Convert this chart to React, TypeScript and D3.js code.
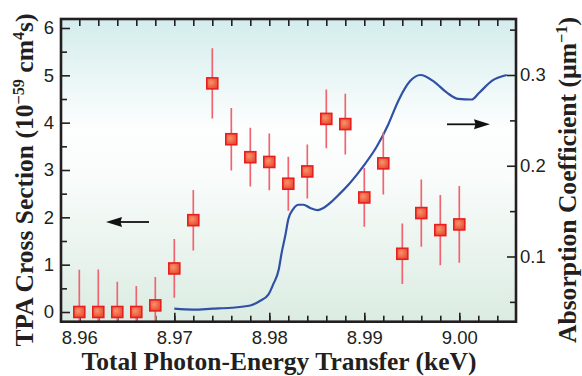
import { useEffect, useRef } from 'react'
import * as d3 from 'd3'

// TPA cross section points (left axis), with error bars
const tpaEnergy = [8.960, 8.962, 8.964, 8.966, 8.968, 8.970, 8.972, 8.974, 8.976, 8.978, 8.980,
  8.982, 8.984, 8.986, 8.988, 8.990, 8.992, 8.994, 8.996, 8.998, 9.000]
const tpaValue = [0, 0, 0, 0, 0.14, 0.92, 1.94, 4.83, 3.65, 3.27, 3.17,
  2.71, 2.97, 4.08, 3.97, 2.42, 3.14, 1.23, 2.09, 1.73, 1.85]
const tpaError = [0.89, 0.9, 0.64, 0.55, 0.6, 0.62, 0.64, 0.74, 0.66, 0.62, 0.6,
  0.57, 0.57, 0.62, 0.64, 0.62, 0.66, 0.64, 0.71, 0.74, 0.81]

// absorption spectrum (right axis)
const absEnergy = [8.9700, 8.9720, 8.9740, 8.9760, 8.9780, 8.9790, 8.9799, 8.9804, 8.9810, 8.9813,
  8.9817, 8.9820, 8.9825, 8.9831, 8.9836, 8.9843, 8.9851, 8.9857, 8.9864, 8.9874, 8.9884,
  8.9892, 8.9900, 8.9913, 8.9925, 8.9936, 8.9948, 8.9959, 8.9973, 8.9987, 8.9999, 9.0013,
  9.0021, 9.0035, 9.0050]
const absCoef = [0.0425, 0.0415, 0.0425, 0.0435, 0.046, 0.051, 0.058, 0.069, 0.086, 0.104,
  0.124, 0.141, 0.152, 0.157, 0.157, 0.1535, 0.151, 0.1535, 0.159, 0.169, 0.18,
  0.19, 0.201, 0.221, 0.245, 0.272, 0.293, 0.3, 0.293, 0.2805, 0.2736, 0.273,
  0.2805, 0.294, 0.3]

const xMajor = [8.96, 8.97, 8.98, 8.99, 9.0]
const xMinor = d3.range(0, 23).map(i => 8.96 + i * 0.002)
const leftMajor = [0, 1, 2, 3, 4, 5, 6]
const leftMinor = [0.5, 1.5, 2.5, 3.5, 4.5, 5.5]
const rightMajor = [0.1, 0.2, 0.3]
const rightMinor = [0.05, 0.15, 0.25, 0.35]

const W = 582
const H = 376
const frame = { left: 61, top: 19, right: 516, bottom: 321.7 }
const ink = '#231f20'
const tickFont = '"Liberation Sans", Arial, sans-serif'
const titleFont = '"Liberation Serif", "Times New Roman", serif'

export default function App() {
  const svgRef = useRef<SVGSVGElement>(null)

  useEffect(() => {
    if (!svgRef.current) return
    const svg = d3.select(svgRef.current)
    svg.selectAll('*').remove()

    const x = d3.scaleLinear().domain([8.96, 9.0]).range([79.3, 459.3])
    const yL = d3.scaleLinear().domain([0, 6]).range([312, 28])
    const yR = d3.scaleLinear().domain([0.1, 0.3]).range([256.5, 75])

    const defs = svg.append('defs')
    const bg = defs.append('linearGradient').attr('id', 'bg')
      .attr('x1', 0).attr('y1', 0).attr('x2', 0).attr('y2', 1)
    bg.append('stop').attr('offset', '0%').attr('stop-color', '#d4ecec')
    bg.append('stop').attr('offset', '36%').attr('stop-color', '#fdfefe')
    bg.append('stop').attr('offset', '52%').attr('stop-color', '#f9fcfb')
    bg.append('stop').attr('offset', '100%').attr('stop-color', '#dbece2')

    const mk = defs.append('radialGradient').attr('id', 'mk')
      .attr('cx', '40%').attr('cy', '40%').attr('r', '70%')
    mk.append('stop').attr('offset', '0%').attr('stop-color', '#f7936a')
    mk.append('stop').attr('offset', '100%').attr('stop-color', '#e8442c')

    defs.append('clipPath').attr('id', 'plot')
      .append('rect')
      .attr('x', frame.left).attr('y', frame.top)
      .attr('width', frame.right - frame.left)
      .attr('height', frame.bottom - frame.top)

    svg.append('rect')
      .attr('x', frame.left).attr('y', frame.top)
      .attr('width', frame.right - frame.left)
      .attr('height', frame.bottom - frame.top)
      .attr('fill', 'url(#bg)')

    // axes: ticks point inward
    const axisStyle = (g: d3.Selection<SVGGElement, unknown, null, undefined>) => {
      g.select('.domain').remove()
      g.selectAll('line').attr('stroke', ink).attr('stroke-width', 1.6)
      g.selectAll('text').attr('font-family', tickFont).attr('font-size', 18.5).attr('fill', ink)
    }

    svg.append('g').attr('transform', `translate(0,${frame.bottom})`)
      .call(d3.axisBottom(x).tickValues(xMinor).tickSize(-6).tickFormat(() => ''))
      .call(axisStyle)
    svg.append('g').attr('transform', `translate(0,${frame.bottom})`)
      .call(d3.axisBottom(x).tickValues(xMajor).tickSize(-9).tickPadding(9).tickFormat(d3.format('.2f')))
      .call(axisStyle)
    svg.append('g').attr('transform', `translate(0,${frame.top})`)
      .call(d3.axisTop(x).tickValues(xMinor).tickSize(-7).tickFormat(() => ''))
      .call(axisStyle)

    svg.append('g').attr('transform', `translate(${frame.left},0)`)
      .call(d3.axisLeft(yL).tickValues(leftMinor).tickSize(-6).tickFormat(() => ''))
      .call(axisStyle)
    svg.append('g').attr('transform', `translate(${frame.left},0)`)
      .call(d3.axisLeft(yL).tickValues(leftMajor).tickSize(-9).tickPadding(7).tickFormat(d3.format('d')))
      .call(axisStyle)

    svg.append('g').attr('transform', `translate(${frame.right},0)`)
      .call(d3.axisRight(yR).tickValues(rightMinor).tickSize(-6).tickFormat(() => ''))
      .call(axisStyle)
    svg.append('g').attr('transform', `translate(${frame.right},0)`)
      .call(d3.axisRight(yR).tickValues(rightMajor).tickSize(-9).tickPadding(4).tickFormat(d3.format('.1f')))
      .call(axisStyle)

    const plot = svg.append('g').attr('clip-path', 'url(#plot)')

    // absorption curve
    const line = d3.line<number>()
      .x((_, i) => x(absEnergy[i]))
      .y(d => yR(d))
      .curve(d3.curveMonotoneX)
    plot.append('path')
      .datum(absCoef)
      .attr('d', line)
      .attr('fill', 'none')
      .attr('stroke', '#2f50a5')
      .attr('stroke-width', 2.2)

    // error bars and markers
    plot.selectAll('.err')
      .data(tpaValue)
      .enter().append('line')
      .attr('x1', (_, i) => x(tpaEnergy[i]))
      .attr('x2', (_, i) => x(tpaEnergy[i]))
      .attr('y1', (d, i) => yL(d - tpaError[i]))
      .attr('y2', (d, i) => yL(d + tpaError[i]))
      .attr('stroke', '#f06472')
      .attr('stroke-width', 1.7)

    const s = 11
    plot.selectAll('.pt')
      .data(tpaValue)
      .enter().append('rect')
      .attr('x', (_, i) => x(tpaEnergy[i]) - s / 2)
      .attr('y', d => yL(d) - s / 2)
      .attr('width', s)
      .attr('height', s)
      .attr('fill', 'url(#mk)')
      .attr('stroke', '#e81f1f')
      .attr('stroke-width', 1.6)

    // frame
    svg.append('rect')
      .attr('x', frame.left).attr('y', frame.top)
      .attr('width', frame.right - frame.left)
      .attr('height', frame.bottom - frame.top)
      .attr('fill', 'none')
      .attr('stroke', ink)
      .attr('stroke-width', 2.6)

    // direction arrows
    const arrow = (x0: number, x1: number, y: number) => {
      const dir = Math.sign(x1 - x0)
      const head = 16
      svg.append('line')
        .attr('x1', x0).attr('y1', y)
        .attr('x2', x1 - dir * (head - 2)).attr('y2', y)
        .attr('stroke', '#111').attr('stroke-width', 1.8)
      svg.append('path')
        .attr('d', `M${x1},${y}L${x1 - dir * head},${y - 5}L${x1 - dir * (head - 1.5)},${y}L${x1 - dir * head},${y + 5}Z`)
        .attr('fill', '#111')
    }
    arrow(149, 106, 222)
    arrow(447, 490, 124.3)

    // axis titles
    const title = (t: d3.Selection<SVGTextElement, unknown, null, undefined>) =>
      t.attr('font-family', titleFont).attr('font-weight', 'bold').attr('font-size', 25)
        .attr('fill', ink).attr('text-anchor', 'middle')

    svg.append('text')
      .attr('x', 279).attr('y', 370)
      .attr('textLength', 395).attr('lengthAdjust', 'spacingAndGlyphs')
      .text('Total Photon-Energy Transfer (keV)')
      .call(title)

    const left = svg.append('text')
      .attr('transform', 'translate(33,180) rotate(-90)')
      .attr('textLength', 333).attr('lengthAdjust', 'spacingAndGlyphs')
      .call(title)
    left.append('tspan').text('TPA Cross Section (10')
    left.append('tspan').attr('font-size', 16).attr('dy', -9).text('\u221259')
    left.append('tspan').attr('dy', 9).text(' cm')
    left.append('tspan').attr('font-size', 16).attr('dy', -9).text('4')
    left.append('tspan').attr('dy', 9).text('s)')

    const right = svg.append('text')
      .attr('transform', 'translate(576,180) rotate(-90)')
      .attr('textLength', 326).attr('lengthAdjust', 'spacingAndGlyphs')
      .call(title)
    right.append('tspan').text('Absorption Coefficient (\u00b5m')
    right.append('tspan').attr('font-size', 16).attr('dy', -9).text('\u22121')
    right.append('tspan').attr('dy', 9).text(')')
  }, [])

  return (
    <svg
      ref={svgRef}
      width={W}
      height={H}
      style={{ position: 'absolute', left: 0, top: 0, background: '#fff' }}
    />
  )
}
